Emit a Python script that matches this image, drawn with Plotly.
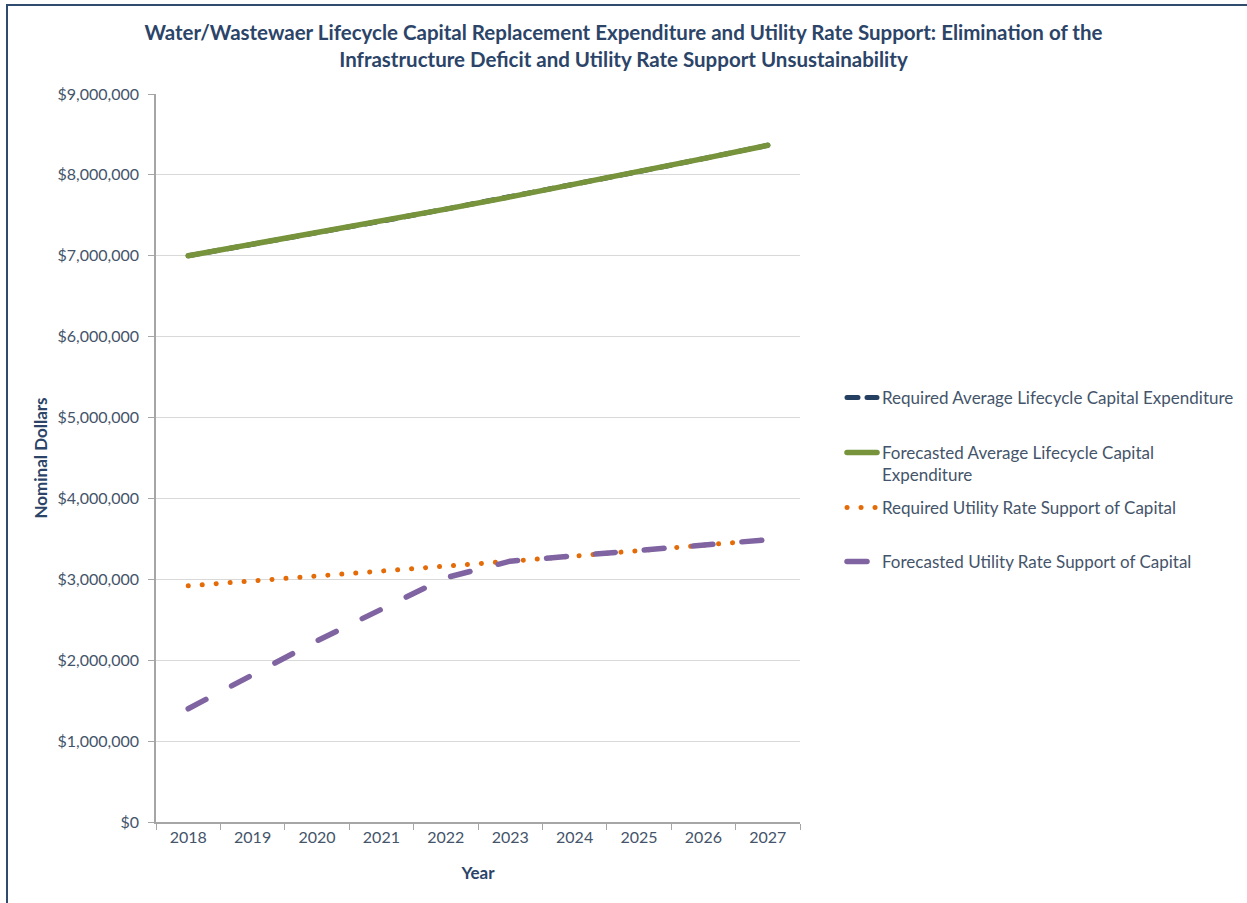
import plotly.graph_objects as go

years = ["2018", "2019", "2020", "2021", "2022", "2023", "2024", "2025", "2026", "2027"]

required_lifecycle_capex = [7000000, 7140000, 7282800, 7428456, 7577025,
                            7728566, 7883137, 8040800, 8201616, 8365648]
forecast_lifecycle_capex = [7000000, 7140000, 7282800, 7428456, 7577025,
                            7728566, 7883137, 8040800, 8201616, 8365648]
required_rate_support = [2920000, 2978000, 3038000, 3099000, 3161000,
                         3224000, 3288000, 3354000, 3421000, 3490000]
forecast_rate_support = [1400000, 1820000, 2240000, 2630000, 3020000,
                         3224000, 3288000, 3354000, 3421000, 3490000]

names = [
    "Required Average Lifecycle Capital Expenditure",
    "Forecasted Average Lifecycle Capital<br>Expenditure",
    "Required Utility Rate Support of Capital",
    "Forecasted Utility Rate Support of Capital",
]

NAVY = "#243F60"
GREEN = "#77933C"
ORANGE = "#E36C09"
PURPLE = "#8064A2"
TEXT = "#44546A"
TITLE = "#2B4468"
FONT = "Lato"

fig = go.Figure()
fig.add_trace(go.Scatter(x=years, y=required_lifecycle_capex, name=names[0], mode="lines",
                         line=dict(color=NAVY, width=5, dash="11px,9px"), legend="legend"))
fig.add_trace(go.Scatter(x=years, y=forecast_lifecycle_capex, name=names[1], mode="lines",
                         line=dict(color=GREEN, width=5.5), legend="legend2"))
fig.add_trace(go.Scatter(x=years, y=required_rate_support, name=names[2], mode="lines",
                         line=dict(color=ORANGE, width=5, dash="0.1px,13.9px"), legend="legend3"))
fig.add_trace(go.Scatter(x=years, y=forecast_rate_support, name=names[3], mode="lines",
                         line=dict(color=PURPLE, width=5.5, dash="20px,29px"), legend="legend4"))

L, R, T, B = 156, 447, 94, 81
W, H = 1247, 903
pw, ph = W - L - R, H - T - B


def px_x(px):
    return (px - L) / pw


def px_y(py):
    return (H - B - py) / ph


def legend_at(py):
    return dict(x=px_x(842), y=px_y(py), xanchor="left", yanchor="top",
                bgcolor="rgba(0,0,0,0)", borderwidth=0, valign="top",
                font=dict(family=FONT, size=17, color=TEXT))


fig.update_layout(
    width=W, height=H,
    margin=dict(l=L, r=R, t=T, b=B, autoexpand=False),
    paper_bgcolor="white", plot_bgcolor="white",
    font=dict(family=FONT, color=TEXT),
    showlegend=True,
    title=dict(
        text="Water/Wastewaer Lifecycle Capital Replacement Expenditure and Utility Rate Support: Elimination of the<br>Infrastructure Deficit and Utility Rate Support Unsustainability",
        x=0.5, xanchor="center", y=1 - 40 / H, yanchor="top",
        font=dict(family=FONT, size=20.5, color=TITLE, weight="bold"),
    ),
    legend=legend_at(380),
    legend2=legend_at(435),
    legend3=legend_at(490),
    legend4=legend_at(544),
    xaxis=dict(
        type="category", range=[-0.5, 9.5],
        ticks="outside", tickson="boundaries", ticklen=6, tickcolor="#A6A6A6",
        showline=True, linecolor="#A6A6A6", linewidth=1.5, showgrid=False,
        tickfont=dict(family=FONT, size=16, color=TEXT),
        title=dict(text="Year", standoff=22,
                   font=dict(family=FONT, size=17, color=TITLE, weight="bold")),
    ),
    yaxis=dict(
        range=[0, 9000000], dtick=1000000, tickprefix="$", tickformat=",d",
        ticks="outside", ticklen=6, tickcolor="#A6A6A6",
        showline=True, linecolor="#A6A6A6", linewidth=1.5,
        showgrid=True, gridcolor="#D9D9D9", gridwidth=1, zeroline=False,
        tickfont=dict(family=FONT, size=16, color=TEXT),
        ticklabelstandoff=6,
        title=dict(text="Nominal Dollars", standoff=6,
                   font=dict(family=FONT, size=17, color=TITLE, weight="bold")),
    ),
    shapes=[dict(type="rect", xref="paper", yref="paper",
                 x0=px_x(7), x1=px_x(W + 20), y0=px_y(H + 20), y1=px_y(5),
                 line=dict(color="#2F4B6E", width=2), fillcolor="rgba(0,0,0,0)",
                 layer="below")],
)

# Round line caps so dotted and dashed strokes end in rounded tips,
# both in the plot area and in every legend.
round_caps = """
document.querySelectorAll('.scatterlayer .js-line, g[class^="legend"] .js-line').forEach(function (p) {
  p.style.strokeLinecap = 'round';
});
"""

fig.write_html("out.html", post_script=round_caps)
